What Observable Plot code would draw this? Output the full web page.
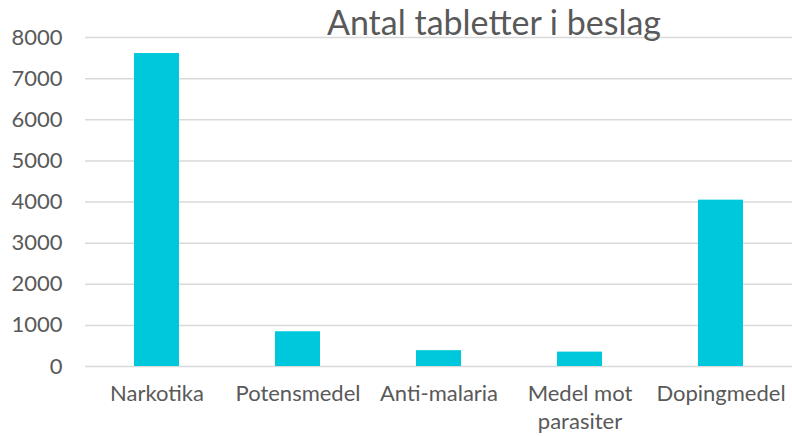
<!DOCTYPE html>
<html>
<head>
<meta charset="utf-8">
<script src="https://cdn.jsdelivr.net/npm/d3@7"></script>
<script src="https://cdn.jsdelivr.net/npm/@observablehq/plot@0.6"></script>
<style>
  html, body { margin: 0; padding: 0; background: #fff; }
  #wrap { position: relative; width: 792px; height: 437px; font-family: Lato, "Open Sans", sans-serif; }
  #title { position: absolute; top: 2px; left: 294px; width: 400px; text-align: center; font-size: 34px; line-height: 40px; color: #595959; white-space: nowrap; z-index: 2; }
</style>
</head>
<body>
<div id="wrap"><div id="title">Antal tabletter i beslag</div></div>
<script>
const categories = ["Narkotika", "Potensmedel", "Anti-malaria", "Medel mot parasiter", "Dopingmedel"];
const values = [7610, 845, 385, 350, 4045];
const yTicks = [0, 1000, 2000, 3000, 4000, 5000, 6000, 7000, 8000];
const tickLabels = {"Medel mot parasiter": "Medel mot\nparasiter"};

const data = categories.map((c, i) => ({category: c, value: values[i]}));

const chart = Plot.plot({
  width: 792,
  height: 437,
  marginTop: 37,
  marginBottom: 71,
  marginLeft: 85,
  marginRight: 0,
  style: {fontFamily: "Lato, 'Open Sans', sans-serif", fontSize: "22px", color: "#595959", background: "transparent", overflow: "visible"},
  x: {domain: categories, paddingInner: 0.68, paddingOuter: 0.34, label: null},
  y: {domain: [0, 8000], label: null},
  marks: [
    Plot.gridY(yTicks, {stroke: "#d9d9d9", strokeOpacity: 1, strokeWidth: 1.5}),
    Plot.barY(data, {x: "category", y: "value", fill: "#00c8dc"}),
    Plot.axisY(yTicks, {tickSize: 0, tickPadding: 23, label: null, fill: "#595959", fontSize: 22, tickFormat: d3.format("d")}),
    Plot.axisX({tickSize: 0, tickPadding: 14, label: null, fill: "#595959", fontSize: 22, lineHeight: 1.3,
      tickFormat: d => tickLabels[d] || d})
  ]
});
document.getElementById("wrap").appendChild(chart);
chart.style.position = "absolute";
chart.style.left = "0";
chart.style.top = "0";
</script>
</body>
</html>
